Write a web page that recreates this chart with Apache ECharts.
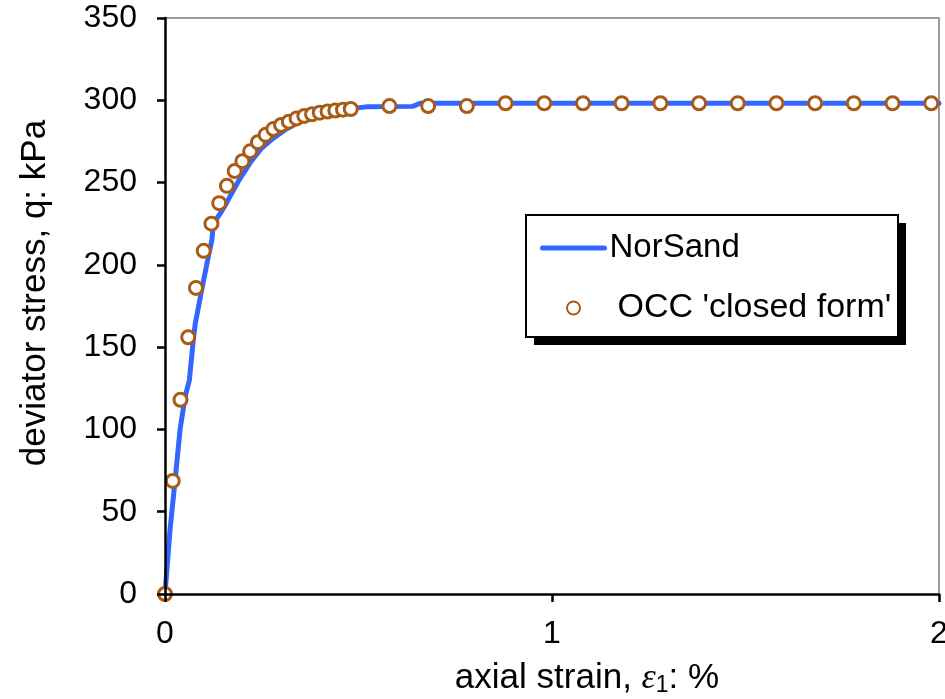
<!DOCTYPE html>
<html>
<head>
<meta charset="utf-8">
<script src="https://cdn.jsdelivr.net/npm/echarts@6/dist/echarts.min.js"></script>
<style>
  html, body { margin: 0; padding: 0; background: #ffffff; }
  #chart { width: 945px; height: 699px; }
</style>
</head>
<body>
<div id="chart"></div>
<script>
// Axial strain (%) and deviator stress (kPa)
const occStrain = [0, 0.02, 0.04, 0.06, 0.08, 0.10, 0.12, 0.14, 0.16, 0.18, 0.20, 0.22, 0.24,
  0.26, 0.28, 0.30, 0.32, 0.34, 0.36, 0.38, 0.40, 0.42, 0.44, 0.46, 0.48,
  0.58, 0.68, 0.78, 0.88, 0.98, 1.08, 1.18, 1.28, 1.38, 1.48, 1.58, 1.68, 1.78, 1.88, 1.98];
const occStress = [0, 68.7, 118, 156, 186, 208.5, 225, 237.5, 248, 257, 263, 269, 274.5,
  279, 282.5, 285, 287, 289, 290.5, 291.5, 292.5, 293.2, 293.8, 294.3, 294.7,
  296.5, 296.5, 296.5, 298.2, 298.2, 298.2, 298.2, 298.2, 298.2, 298.2, 298.2, 298.2, 298.2, 298.2, 298.2];

const norSandStrain = [0, 0.013, 0.026, 0.039, 0.052, 0.063, 0.073, 0.078, 0.095, 0.112, 0.121, 0.125,
  0.142, 0.155, 0.19, 0.22, 0.25, 0.28, 0.31, 0.34, 0.37, 0.40, 0.44, 0.48, 0.52, 0.64, 0.66, 2.0];
const norSandStress = [0, 39, 69, 100, 120, 130, 154, 164, 185, 205, 215, 225,
  231, 236, 251, 262, 271, 277, 282, 286, 289, 291, 293, 295, 296, 296.3, 298.2, 298.2];

const seriesNames = ['NorSand', "OCC 'closed form'"];

const pairs = (xs, ys) => xs.map((x, i) => [x, ys[i]]);

const chart = echarts.init(document.getElementById('chart'), null, { renderer: 'canvas' });

const FONT = 'Liberation Sans, Arial, sans-serif';

// light frame on the top and right edges of the plot area
const frameAxis = {
  axisLine: { show: true, onZero: false, lineStyle: { color: '#9a9a9a', width: 2 } },
  axisTick: { show: false }, axisLabel: { show: false }, splitLine: { show: false }
};

chart.setOption({
  animation: false,
  backgroundColor: '#ffffff',
  grid: { left: 165, top: 18, right: 6, bottom: 105, containLabel: false, outerBoundsMode: 'none' },
  xAxis: [
    {
      type: 'value', min: 0, max: 2, interval: 1, position: 'bottom', z: 5,
      axisLine: { show: true, onZero: false, lineStyle: { color: '#000', width: 2.5 } },
      axisTick: { show: true, inside: false, length: 8, lineStyle: { color: '#000', width: 2.5 } },
      axisLabel: { color: '#000', fontFamily: FONT, fontSize: 32, margin: 24 },
      splitLine: { show: false },
      name: '{a|axial strain, }{e|ε}{s|1}{a|: %}',
      nameLocation: 'middle', nameGap: 66,
      nameTextStyle: {
        padding: [0, 0, 0, 70],
        rich: {
          a: { fontFamily: FONT, fontSize: 35, color: '#000' },
          e: { fontFamily: 'Liberation Serif, Times New Roman, serif', fontStyle: 'italic', fontSize: 36, color: '#000' },
          s: { fontFamily: FONT, fontSize: 23, color: '#000', verticalAlign: 'bottom', padding: [14, 0, 0, 0] }
        }
      }
    },
    Object.assign({ type: 'value', min: 0, max: 2, position: 'top', z: 1 }, frameAxis)
  ],
  yAxis: [
    {
      type: 'value', min: 0, max: 350, interval: 50, position: 'left', z: 5,
      axisLine: { show: true, onZero: false, lineStyle: { color: '#000', width: 2.5 } },
      axisTick: { show: true, inside: false, length: 8, lineStyle: { color: '#000', width: 2.5 } },
      axisLabel: { color: '#000', fontFamily: FONT, fontSize: 32, margin: 28 },
      splitLine: { show: false },
      name: 'deviator stress, q: kPa',
      nameLocation: 'middle', nameGap: 112,
      nameTextStyle: { color: '#000', fontFamily: FONT, fontSize: 35, padding: [0, 0, 0, 26] }
    },
    Object.assign({ type: 'value', min: 0, max: 350, position: 'right', z: 1 }, frameAxis)
  ],
  graphic: [
    // legend box with a solid drop shadow
    { type: 'rect', z: 10, shape: { x: 534, y: 223, width: 372, height: 122 }, style: { fill: '#000' } },
    { type: 'rect', z: 11, shape: { x: 526, y: 215, width: 372, height: 122 },
      style: { fill: '#fff', stroke: '#000', lineWidth: 2 } }
  ],
  legend: {
    orient: 'vertical',
    left: 540, top: 229, z: 12,
    padding: 0,
    itemWidth: 62, itemHeight: 13, itemGap: 22,
    textStyle: {
      color: '#000', fontFamily: FONT, fontSize: 33, lineHeight: 38,
      rich: { o: { fontFamily: FONT, fontSize: 34, padding: [0, 0, 0, 8] } }
    },
    formatter: name => name === seriesNames[1] ? '{o|' + name + '}' : name,
    data: [
      { name: seriesNames[0], itemStyle: { opacity: 0 }, lineStyle: { width: 5, cap: 'round', color: '#3366ff' } },
      { name: seriesNames[1], itemStyle: { borderWidth: 2 } }
    ]
  },
  series: [
    {
      name: seriesNames[0],
      type: 'line',
      data: pairs(norSandStrain, norSandStress),
      symbol: 'none',
      lineStyle: { color: '#3366ff', width: 5, cap: 'round', join: 'round' },
      itemStyle: { color: '#3366ff' },
      z: 2
    },
    {
      name: seriesNames[1],
      type: 'scatter',
      data: pairs(occStrain, occStress),
      symbol: 'circle',
      symbolSize: 13,
      itemStyle: { color: '#ffffff', borderColor: '#a85a16', borderWidth: 3, opacity: 1 },
      z: 3
    }
  ]
});
</script>
</body>
</html>
